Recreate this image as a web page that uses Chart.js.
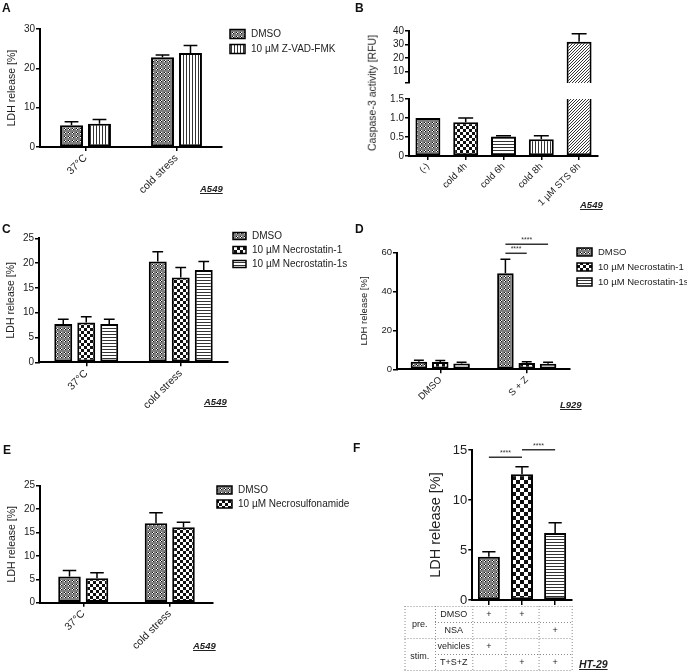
<!DOCTYPE html>
<html>
<head>
<meta charset="utf-8">
<script src="https://cdn.jsdelivr.net/npm/chart.js@4.4.1/dist/chart.umd.min.js"></script>
<style>
  body { margin: 0; background: #fff; width: 687px; height: 671px; position: relative; overflow: hidden;
         font-family: "Liberation Sans", Arial, sans-serif; color: #222; }
  canvas { position: absolute; }
  .t { position: absolute; line-height: 1; white-space: nowrap; }
  .pl { font-weight: bold; font-size: 12px; color: #111; }
  .cl { font-weight: bold; font-style: italic; font-size: 9.5px; text-decoration: underline; color: #222; }
</style>
</head>
<body>
<canvas id="cA" width="340" height="215" style="left:0;top:0"></canvas>
<canvas id="cB1" width="347" height="90" style="left:340px;top:0"></canvas>
<canvas id="cB2" width="347" height="125" style="left:340px;top:90px"></canvas>
<canvas id="cC" width="350" height="215" style="left:0;top:220px"></canvas>
<canvas id="cD" width="347" height="215" style="left:340px;top:220px"></canvas>
<canvas id="cE" width="350" height="231" style="left:0;top:440px"></canvas>
<canvas id="cF" width="347" height="231" style="left:340px;top:440px"></canvas>

<div class="t pl" style="left:2px;top:2px">A</div>
<div class="t pl" style="left:355px;top:2px">B</div>
<div class="t pl" style="left:2px;top:223px">C</div>
<div class="t pl" style="left:355px;top:223px">D</div>
<div class="t pl" style="left:3px;top:444px">E</div>
<div class="t pl" style="left:353px;top:442px">F</div>

<div class="t cl" style="left:200px;top:184px">A549</div>
<div class="t cl" style="left:580px;top:200px">A549</div>
<div class="t cl" style="left:204px;top:397px">A549</div>
<div class="t cl" style="left:560px;top:400px">L929</div>
<div class="t cl" style="left:193px;top:641px">A549</div>
<div class="t cl" style="left:579px;top:659px;font-size:10.5px">HT-29</div>

<div class="t" style="left:372px;top:93px;font-size:10.5px;transform:translate(-50%,-50%) rotate(-90deg)">Caspase-3 activity [RFU]</div>

<script>
const FONT = '"Liberation Sans", Arial, sans-serif';

// ---- A: Z-VAD-FMK, A549
const aCats = ['37°C', 'cold stress'];
const aDmso = [5.5, 22.8];
const aDmsoErr = [0.9, 0.6];
const aZvad = [5.9, 23.9];
const aZvadErr = [1.1, 1.9];

// ---- B: caspase-3 activity, A549 (broken axis)
const bCats = ['(-)', 'cold 4h', 'cold 6h', 'cold 8h', '1 µM STS 6h'];
const bVals = [1.0, 0.89, 0.51, 0.44, 32];
const bErr = [0, 0.11, 0.02, 0.09, 6];
const bLowTicks = [0, 0.5, 1.0, 1.5];
const bHighTicks = [10, 20, 30, 40];

// ---- C: necrostatins, A549
const cCats = ['37°C', 'cold stress'];
const cDmso = [7.7, 20.3];
const cDmsoErr = [1.0, 2.0];
const cNec1 = [8.0, 17.1];
const cNec1Err = [1.2, 2.0];
const cNec1s = [7.7, 18.6];
const cNec1sErr = [1.0, 1.7];

// ---- D: necrostatins, L929
const dCats = ['DMSO', 'S + Z'];
const dDmso = [3.9, 49.4];
const dDmsoErr = [0.7, 7.2];
const dNec1 = [3.7, 3.2];
const dNec1Err = [0.8, 0.7];
const dNec1s = [3.0, 2.9];
const dNec1sErr = [0.6, 0.7];
// [dataset, category] pairs and line height in data units
const dSig = [
  { a: [0, 1], b: [1, 1], y: 59.7, text: '****' },
  { a: [0, 1], b: [2, 1], y: 64.3, text: '****' }
];

// ---- E: necrosulfonamide, A549
const eCats = ['37°C', 'cold stress'];
const eDmso = [5.6, 17.0];
const eDmsoErr = [1.3, 2.2];
const eNsa = [5.2, 16.1];
const eNsaErr = [1.2, 1.1];

// ---- F: HT-29
const fCats = ['DMSO / vehicles', 'DMSO / T+S+Z', 'NSA / T+S+Z'];
const fVals = [4.33, 12.57, 6.7];
const fErr = [0.5, 0.76, 1.03];
const fSig = [
  { a: [0, 0], b: [0, 1], y: 14.27, text: '****' },
  { a: [0, 1], b: [0, 2], y: 15.03, text: '****' }
];
const fGroups = ['pre.', 'stim.'];
const fRowNames = ['DMSO', 'NSA', 'vehicles', 'T+S+Z'];
const fMarks = [[1, 1, 0], [0, 0, 1], [1, 0, 0], [0, 1, 1]];

Chart.defaults.font.family = FONT;
Chart.defaults.color = '#222';

// fill patterns like the GraphPad hatches
function pattern(kind, s) {
  const c = document.createElement('canvas');
  const g = c.getContext('2d');
  if (kind === 'fine') {
    c.width = c.height = 4;
    g.fillStyle = '#808080'; g.fillRect(0, 0, 4, 4);
    g.fillStyle = '#111'; g.fillRect(0, 0, 1, 1); g.fillRect(1, 1, 1, 1);
    g.fillStyle = '#fff'; g.fillRect(1, 0, 1, 1); g.fillRect(0, 1, 1, 1);
  } else if (kind === 'checker') {
    s = s || 3;
    c.width = c.height = 2 * s;
    g.fillStyle = '#fff'; g.fillRect(0, 0, 2 * s, 2 * s);
    g.fillStyle = '#111'; g.fillRect(0, 0, s, s); g.fillRect(s, s, s, s);
  } else if (kind === 'vlines') {
    c.width = 3; c.height = 1;
    g.fillStyle = '#fff'; g.fillRect(0, 0, 3, 1);
    g.fillStyle = '#333'; g.fillRect(0, 0, 1, 1);
  } else if (kind === 'hlines') {
    c.width = 1; c.height = 3;
    g.fillStyle = '#fff'; g.fillRect(0, 0, 1, 3);
    g.fillStyle = '#333'; g.fillRect(0, 0, 1, 1);
  } else if (kind === 'diag') {
    c.width = c.height = 3;
    g.fillStyle = '#fff'; g.fillRect(0, 0, 3, 3);
    g.fillStyle = '#333'; g.fillRect(2, 0, 1, 1); g.fillRect(1, 1, 1, 1); g.fillRect(0, 2, 1, 1);
  }
  return g.createPattern(c, 'repeat');
}
const P = {
  fine: pattern('fine'),
  checker: pattern('checker', 3),
  bigChecker: pattern('checker', 4),
  vlines: pattern('vlines'),
  hlines: pattern('hlines'),
  diag: pattern('diag')
};

const errorBars = {
  id: 'errorBars',
  afterDatasetsDraw(chart) {
    const y = chart.scales.y, ctx = chart.ctx;
    ctx.save();
    ctx.strokeStyle = '#000';
    ctx.lineWidth = 1.5;
    chart.data.datasets.forEach((ds, di) => {
      if (!ds.err) return;
      chart.getDatasetMeta(di).data.forEach((bar, i) => {
        const v = ds.data[i], e = ds.err[i];
        if (!e || v < y.min || v > y.max) return;
        const top = y.getPixelForValue(v + e);
        const half = bar.width * 0.3;
        ctx.beginPath();
        ctx.moveTo(bar.x, bar.y); ctx.lineTo(bar.x, top);
        ctx.moveTo(bar.x - half, top); ctx.lineTo(bar.x + half, top);
        ctx.stroke();
      });
    });
    ctx.restore();
  }
};

function boxLegend(o) {
  return {
    id: 'boxLegend',
    afterDraw(chart) {
      const ctx = chart.ctx;
      ctx.save();
      chart.data.datasets.forEach((ds, i) => {
        const cy = o.y + i * o.dy;
        ctx.fillStyle = ds.backgroundColor;
        ctx.fillRect(o.x, cy - o.h / 2, o.w, o.h);
        ctx.strokeStyle = '#000';
        ctx.lineWidth = 1.5;
        ctx.strokeRect(o.x, cy - o.h / 2, o.w, o.h);
        ctx.fillStyle = '#222';
        ctx.font = o.size + 'px ' + FONT;
        ctx.textBaseline = 'middle';
        ctx.fillText(ds.label, o.x + o.w + 6, cy + 0.5);
      });
      ctx.restore();
    }
  };
}

function sigLines(items) {
  return {
    id: 'sigLines',
    afterDraw(chart) {
      const ctx = chart.ctx, y = chart.scales.y;
      ctx.save();
      items.forEach(it => {
        const x1 = chart.getDatasetMeta(it.a[0]).data[it.a[1]].x;
        const x2 = chart.getDatasetMeta(it.b[0]).data[it.b[1]].x;
        const py = y.getPixelForValue(it.y);
        ctx.strokeStyle = '#333';
        ctx.lineWidth = 1.5;
        ctx.beginPath(); ctx.moveTo(x1, py); ctx.lineTo(x2, py); ctx.stroke();
        ctx.fillStyle = '#333';
        ctx.font = '7px ' + FONT;
        ctx.textAlign = 'center';
        ctx.textBaseline = 'alphabetic';
        ctx.fillText(it.text, (x1 + x2) / 2, py - 2);
      });
      ctx.restore();
    }
  };
}

// dotted design table below panel F
const fTable = {
  id: 'fTable',
  afterDraw(chart) {
    const ctx = chart.ctx, x = chart.scales.x;
    const top = chart.chartArea.bottom + 6, rowH = 16;
    const left = 64.5, nameL = 95;
    const step = x.getPixelForValue(1) - x.getPixelForValue(0);
    const cols = fCats.map((_, i) => x.getPixelForValue(i));
    const right = cols[cols.length - 1] + step / 2;
    ctx.save();
    ctx.strokeStyle = '#8a8a8a';
    ctx.lineWidth = 1;
    ctx.setLineDash([1, 2]);
    const hline = (x0, yy) => { ctx.beginPath(); ctx.moveTo(x0, yy + 0.5); ctx.lineTo(right, yy + 0.5); ctx.stroke(); };
    const vline = xx => { ctx.beginPath(); ctx.moveTo(xx + 0.5, top); ctx.lineTo(xx + 0.5, top + 4 * rowH); ctx.stroke(); };
    for (let r = 0; r <= 4; r++) hline(r % 2 ? nameL : left, top + r * rowH);
    [left, nameL, cols[0] - step / 2].concat(cols.map(c => c + step / 2)).forEach(vline);
    ctx.setLineDash([]);
    ctx.fillStyle = '#222';
    ctx.textAlign = 'center';
    ctx.textBaseline = 'middle';
    ctx.font = '9px ' + FONT;
    fGroups.forEach((g, i) => ctx.fillText(g, (left + nameL) / 2, top + (2 * i + 1) * rowH + 3));
    fRowNames.forEach((n, r) => {
      const cy = top + r * rowH + rowH / 2 + 1;
      ctx.fillText(n, (nameL + cols[0] - step / 2) / 2, cy);
      fMarks[r].forEach((m, i) => { if (m) ctx.fillText('+', cols[i], cy); });
    });
    ctx.restore();
  }
};

function yAxis(o) {
  return {
    min: o.min || 0,
    max: o.max,
    afterBuildTicks: o.ticks ? (s => { s.ticks = o.ticks.map(v => ({ value: v })); }) : undefined,
    ticks: { stepSize: o.step, autoSkip: false, color: '#222', font: { size: o.tick || 10 }, padding: 1, callback: o.cb },
    grid: { display: true, drawOnChartArea: false, tickLength: 4, color: '#000', lineWidth: 1.5 },
    border: { color: '#000', width: 2 },
    title: o.title ? { display: true, text: o.title, color: '#222', font: { size: o.tsize || 10.5 }, padding: 0 }
                   : { display: false },
    afterFit: s => { s.width = o.w; }
  };
}

function xAxis(o) {
  return {
    display: o.display !== false,
    offset: true,
    ticks: { display: o.labels !== false, autoSkip: false, minRotation: 45, maxRotation: 45,
             color: '#222', font: { size: o.size || 10.5 }, padding: 1 },
    grid: { display: true, offset: false, drawOnChartArea: false, tickLength: o.tl || 4, color: '#000', lineWidth: 1.5 },
    border: { color: '#000', width: 2 },
    afterFit: s => { s.height = o.h; }
  };
}

function bar(label, data, err, fill, cat, barP) {
  return { label, data, err, backgroundColor: fill, borderColor: '#000', borderWidth: 2,
           borderSkipped: false, categoryPercentage: cat, barPercentage: barP };
}

function barChart(id, cfg) {
  return new Chart(document.getElementById(id), {
    type: 'bar',
    data: { labels: cfg.labels, datasets: cfg.datasets },
    options: {
      responsive: false,
      animation: false,
      events: [],
      layout: { padding: cfg.pad },
      plugins: { legend: { display: false }, tooltip: { enabled: false } },
      scales: { x: cfg.x, y: cfg.y }
    },
    plugins: [errorBars].concat(cfg.plugins || [])
  });
}

// A
barChart('cA', {
  labels: aCats,
  datasets: [
    bar('DMSO', aDmso, aDmsoErr, P.fine, 0.615, 0.82),
    bar('10 µM Z-VAD-FMK', aZvad, aZvadErr, P.vlines, 0.615, 0.82)
  ],
  pad: { left: 6, top: 29, right: 118, bottom: 0 },
  x: xAxis({ h: 68 }),
  y: yAxis({ max: 30, step: 10, w: 34, title: 'LDH release [%]' }),
  plugins: [boxLegend({ x: 230, y: 34, dy: 15, w: 15, h: 9, size: 10 })]
});

// B upper segment
const bBars = [P.fine, P.checker, P.hlines, P.vlines, P.diag];
barChart('cB1', {
  labels: bCats,
  datasets: [Object.assign(bar('Caspase-3', bVals, bErr, bBars, 1, 0.66), { clip: 0 })],
  pad: { left: 0, top: 31, right: 89, bottom: 2.5 },
  x: xAxis({ display: false, h: 0 }),
  y: yAxis({ min: 1.5, max: 40, ticks: [1.5].concat(bHighTicks), w: 69,
             cb: v => (v < 10 ? '' : v) })
});

// B lower segment
barChart('cB2', {
  labels: bCats,
  datasets: [Object.assign(bar('Caspase-3', bVals, bErr, bBars, 1, 0.66), { clip: 0 })],
  pad: { left: 0, top: 9, right: 89, bottom: 0 },
  x: xAxis({ h: 59, size: 9.5 }),
  y: yAxis({ max: 1.5, ticks: bLowTicks, w: 69, cb: v => (v === 0 ? '0' : v.toFixed(1)) })
});

// C
barChart('cC', {
  labels: cCats,
  datasets: [
    bar('DMSO', cDmso, cDmsoErr, P.fine, 0.73, 0.78),
    bar('10 µM Necrostatin-1', cNec1, cNec1Err, P.checker, 0.73, 0.78),
    bar('10 µM Necrostatin-1s', cNec1s, cNec1sErr, P.hlines, 0.73, 0.78)
  ],
  pad: { left: 5, top: 18.3, right: 122, bottom: 0 },
  x: xAxis({ h: 72.7 }),
  y: yAxis({ max: 25, step: 5, w: 34, title: 'LDH release [%]' }),
  plugins: [boxLegend({ x: 233, y: 16, dy: 14, w: 13, h: 7, size: 10 })]
});

// D
barChart('cD', {
  labels: dCats,
  datasets: [
    bar('DMSO', dDmso, dDmsoErr, P.fine, 0.74, 0.775),
    bar('10 µM Necrostatin-1', dNec1, dNec1Err, P.checker, 0.74, 0.775),
    bar('10 µM Necrostatin-1s', dNec1s, dNec1sErr, P.hlines, 0.74, 0.775)
  ],
  pad: { left: 19, top: 32.7, right: 117, bottom: 0 },
  x: xAxis({ h: 65.7, size: 9.5 }),
  y: yAxis({ max: 60, step: 20, w: 38, tick: 9.5, tsize: 9.5, title: 'LDH release [%]' }),
  plugins: [sigLines(dSig), boxLegend({ x: 237, y: 32, dy: 15, w: 15, h: 8, size: 9.5 })]
});

// E
barChart('cE', {
  labels: eCats,
  datasets: [
    bar('DMSO', eDmso, eDmsoErr, P.fine, 0.636, 0.82),
    bar('10 µM Necrosulfonamide', eNsa, eNsaErr, P.checker, 0.636, 0.82)
  ],
  pad: { left: 5.4, top: 45.7, right: 137, bottom: 0 },
  x: xAxis({ h: 68.3 }),
  y: yAxis({ max: 25, step: 5, w: 34.6, title: 'LDH release [%]' }),
  plugins: [boxLegend({ x: 217, y: 50, dy: 14, w: 15, h: 8, size: 10 })]
});

// F
barChart('cF', {
  labels: fCats,
  datasets: [bar('HT-29', fVals, fErr, [P.fine, P.bigChecker, P.hlines], 1, 0.665)],
  pad: { left: 87.3, top: 10, right: 115.3, bottom: 0 },
  x: xAxis({ h: 71, labels: false, tl: 5 }),
  y: yAxis({ max: 15, step: 5, w: 45, tick: 13, tsize: 14.5, title: 'LDH release [%]' }),
  plugins: [sigLines(fSig), fTable]
});
</script>
</body>
</html>
